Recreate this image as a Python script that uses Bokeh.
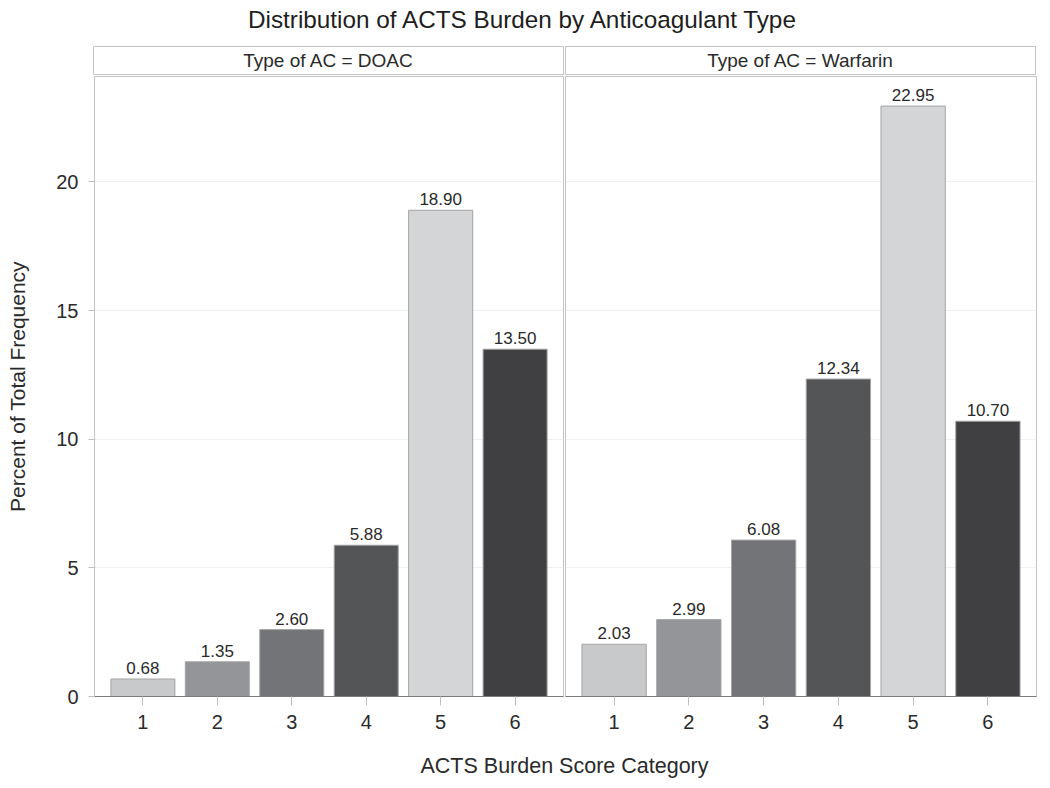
from bokeh.plotting import figure
from bokeh.layouts import column, row
from bokeh.models import Range1d, FixedTicker, ColumnDataSource, Spacer
from bokeh.core.properties import value
from bokeh.embed import file_html
from bokeh.resources import INLINE

# ---- data ----
categories = [1, 2, 3, 4, 5, 6]
doac = [0.68, 1.35, 2.60, 5.88, 18.90, 13.50]
warfarin = [2.03, 2.99, 6.08, 12.34, 22.95, 10.70]
panel_titles = ["Type of AC = DOAC", "Type of AC = Warfarin"]
bar_colors = ["#c8c9cb", "#939598", "#737477", "#545557", "#d4d5d7", "#404042"]
y_ticks = [0, 5, 10, 15, 20]

FONT = "Liberation Sans"
TXT = "#2a2a2a"
y_range = Range1d(0, 24.1)
SHIFT = 4  # extra left room inside the layout


def blank(w, h):
    f = figure(width=w, height=h, x_range=Range1d(0, w), y_range=Range1d(0, h),
               toolbar_location=None, output_backend="svg", min_border=0)
    f.axis.visible = False
    f.grid.visible = False
    f.outline_line_color = None
    return f


# title
title_fig = blank(1034 + SHIFT, 38)
title_fig.text(x=[516 + SHIFT], y=[38 - 12], text=["Distribution of ACTS Burden by Anticoagulant Type"],
               text_font=value(FONT), text_font_size="24.3px", text_color="#1e1e1e",
               text_align="center", text_baseline="middle")


def header(label):
    f = figure(width=472, height=30, x_range=Range1d(0, 1), y_range=Range1d(0, 1),
               toolbar_location=None, output_backend="svg", min_border=1)
    f.axis.visible = False
    f.grid.visible = False
    f.outline_line_color = "#c4c4c4"
    f.text(x=[0.5], y=[0.5], text=[label], text_font=value(FONT), text_font_size="19px",
           text_color=TXT, text_align="center", text_baseline="middle")
    return f


hdr1 = header(panel_titles[0])
hdr2 = header(panel_titles[1])


def panel(values, width, left, right, show_y):
    f = figure(width=width, height=667, x_range=Range1d(0.35, 6.65), y_range=y_range,
               toolbar_location=None, output_backend="svg",
               min_border_left=left, min_border_right=right, min_border_top=1,
               min_border_bottom=46)
    src = ColumnDataSource(dict(x=categories, top=values, color=bar_colors,
                                label=["%.2f" % v for v in values]))
    f.vbar(x="x", top="top", width=0.86, bottom=0, source=src, fill_color="color",
           line_color="#a4a4a4", line_width=1)
    f.text(x="x", y="top", text="label", source=src, text_font=value(FONT),
           text_font_size="17px", text_color=TXT, text_align="center",
           text_baseline="bottom", y_offset=-5)
    f.outline_line_color = "#c4c4c4"
    f.xgrid.visible = False
    f.ygrid.ticker = FixedTicker(ticks=y_ticks)
    f.ygrid.grid_line_color = "#f0f0f0"
    f.xaxis.ticker = FixedTicker(ticks=categories)
    f.xaxis.axis_line_color = "#7a7a7a"
    f.xaxis.major_tick_line_color = "#c0c0c0"
    f.xaxis.major_tick_out = 9
    f.xaxis.major_tick_in = 0
    f.xaxis.minor_tick_line_color = None
    f.xaxis.major_label_text_font = FONT
    f.xaxis.major_label_text_font_size = "20px"
    f.xaxis.major_label_text_color = TXT
    f.xaxis.major_label_standoff = 9
    if show_y:
        f.yaxis.ticker = FixedTicker(ticks=y_ticks)
        f.yaxis.axis_line_color = "#c4c4c4"
        f.yaxis.major_tick_line_color = "#c0c0c0"
        f.yaxis.major_tick_out = 6
        f.yaxis.major_tick_in = 0
        f.yaxis.minor_tick_line_color = None
        f.yaxis.major_label_text_font = FONT
        f.yaxis.major_label_text_font_size = "20px"
        f.yaxis.major_label_text_color = TXT
        f.yaxis.major_label_standoff = 10
        f.yaxis.axis_label = "Percent of Total Frequency"
        f.yaxis.axis_label_text_font = FONT
        f.yaxis.axis_label_text_font_size = "21px"
        f.yaxis.axis_label_text_font_style = "normal"
        f.yaxis.axis_label_text_color = TXT
        f.yaxis.axis_label_standoff = 24
    else:
        f.yaxis.visible = False
    return f


left_fig = panel(doac, 557 + SHIFT, 86 + SHIFT, 1, True)
right_fig = panel(warfarin, 477, 1, 5, False)

xlabel_fig = blank(1034 + SHIFT, 38)
xlabel_fig.text(x=[557 + SHIFT], y=[38 - 23.5], text=["ACTS Burden Score Category"],
                text_font=value(FONT), text_font_size="21.5px", text_color=TXT,
                text_align="center", text_baseline="middle")

main = column(title_fig,
              row(Spacer(width=85 + SHIFT, height=30), hdr1, hdr2),
              row(left_fig, right_fig),
              xlabel_fig)
layout = column(Spacer(width=1, height=7), row(Spacer(width=7 - SHIFT, height=1), main))

open("out.html", "w").write(file_html(layout, INLINE))
